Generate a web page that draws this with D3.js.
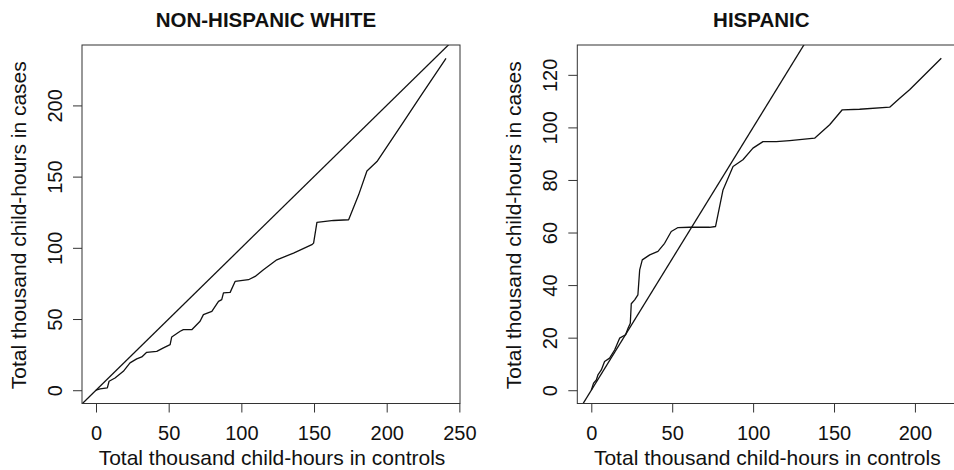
<!DOCTYPE html>
<html>
<head>
<meta charset="utf-8">
<script src="https://cdn.jsdelivr.net/npm/d3@7"></script>
<style>
  html, body { margin: 0; padding: 0; background: #fff; }
  svg { display: block; font-family: "Liberation Sans", Arial, Helvetica, sans-serif; }
</style>
</head>
<body>
<svg id="chart" width="954" height="470"></svg>
<script>
// cumulative child-hours (thousands): controls on x, cases on y
var nhwControls = [0, 2.8, 7.8, 9.0, 13.1, 18.8, 23.4, 28, 31.5, 34.9, 41.8, 46.4, 51, 52.1, 57.9, 60.1, 65.9, 71.6, 73.9, 79.7, 84.3, 86.5, 87.7, 92.3, 95.7, 104.9, 109.5, 115.2, 124.4, 135.9, 148.5, 149.7, 152, 163.5, 173.8, 180.7, 186.4, 193.3, 200.2, 211.7, 223.1, 240.8];
var nhwCases = [0, 0.9, 1.6, 6.3, 8.6, 13.3, 19.2, 22, 23.4, 26.6, 27.3, 29.7, 32, 37.4, 41.4, 42.5, 42.5, 48.4, 53.1, 55.4, 62.4, 63.6, 68.3, 68.7, 76.4, 77.6, 79.9, 84.6, 91.6, 96.3, 102.2, 103.3, 117.8, 119.2, 119.7, 137.2, 154, 160.6, 171.1, 188.6, 206.2, 233.1];

var hispControls = [0, 1.4, 3.1, 4.1, 6.2, 8.2, 11.3, 14.4, 17.5, 21.2, 22.7, 24.1, 24.7, 26.8, 28.8, 29.9, 31.5, 36.1, 41.2, 45.3, 49.4, 53.6, 60.8, 73.1, 76.8, 81.4, 87.6, 93.7, 99.9, 106.1, 114.3, 122.6, 138, 147.3, 155.1, 165.8, 184.4, 190.6, 196.7, 216.3];
var hispCases = [0, 2.7, 3.9, 5.8, 7.7, 10.9, 12.2, 15.3, 19.8, 21.1, 23.6, 25.5, 32.9, 34.4, 36.3, 45.8, 49.6, 51.5, 52.8, 55.9, 60.4, 61.9, 62, 62, 62.3, 76.2, 85.1, 87.7, 92.1, 94.6, 94.6, 95, 95.9, 101, 106.7, 106.9, 107.7, 111.1, 114.3, 126.3];

var nhwXTicks = [0, 50, 100, 150, 200, 250];
var nhwYTicks = [0, 50, 100, 150, 200];
var hispXTicks = [0, 50, 100, 150, 200];
var hispYTicks = [0, 20, 40, 60, 80, 100, 120];

var xLabel = "Total thousand child-hours in controls";
var yLabel = "Total thousand child-hours in cases";

var svg = d3.select("#chart");

// R style axis range: data range padded by 4% each side
function rExtent(arr) {
  var lo = d3.min(arr), hi = d3.max(arr);
  var pad = (hi - lo) * 0.04;
  return [lo - pad, hi + pad];
}

function drawPanel(opts) {
  var left = opts.left, top = 45, w = 378, h = 358.5;
  var x = d3.scaleLinear().domain(rExtent(opts.xs)).range([left, left + w]);
  var y = d3.scaleLinear().domain(rExtent(opts.ys)).range([top + h, top]);

  var clipId = "clip-" + opts.id;
  svg.append("clipPath").attr("id", clipId)
    .append("rect").attr("x", left).attr("y", top).attr("width", w).attr("height", h);

  var plot = svg.append("g").attr("clip-path", "url(#" + clipId + ")");

  // y = x reference line
  var lo = Math.min(x.domain()[0], y.domain()[0]);
  var hi = Math.max(x.domain()[1], y.domain()[1]);
  plot.append("line")
    .attr("x1", x(lo)).attr("y1", y(lo))
    .attr("x2", x(hi)).attr("y2", y(hi))
    .attr("stroke", "#111").attr("stroke-width", 1.3);

  var pts = opts.xs.map(function(d, i) { return [d, opts.ys[i]]; });
  var line = d3.line()
    .x(function(d) { return x(d[0]); })
    .y(function(d) { return y(d[1]); });
  plot.append("path").datum(pts)
    .attr("d", line)
    .attr("fill", "none")
    .attr("stroke", "#111")
    .attr("stroke-width", 1.3)
    .attr("stroke-linejoin", "round");

  // box
  svg.append("rect")
    .attr("x", left).attr("y", top).attr("width", w).attr("height", h)
    .attr("fill", "none").attr("stroke", "#333").attr("stroke-width", 1);

  // x axis
  var xa = svg.append("g").attr("transform", "translate(0," + (top + h) + ")")
    .call(d3.axisBottom(x).tickValues(opts.xTicks).tickSize(9).tickFormat(d3.format("d")));
  xa.select(".domain").remove();
  xa.selectAll(".tick line").attr("stroke", "#333");
  xa.selectAll(".tick text")
    .attr("y", 36).attr("dy", 0)
    .attr("font-size", "20px").attr("fill", "#111")
    .attr("font-family", null);

  // y axis, labels parallel to the axis
  var ya = svg.append("g").attr("transform", "translate(" + left + ",0)")
    .call(d3.axisLeft(y).tickValues(opts.yTicks).tickSize(9).tickFormat(d3.format("d")));
  ya.select(".domain").remove();
  ya.selectAll(".tick line").attr("stroke", "#333");
  ya.selectAll(".tick text")
    .attr("x", null).attr("dy", 0)
    .attr("transform", "translate(-20,0) rotate(-90)")
    .attr("text-anchor", "middle")
    .attr("font-size", "20px").attr("fill", "#111")
    .attr("font-family", null);

  var cx = left + w / 2;
  svg.append("text")
    .attr("x", cx - 5).attr("y", 27)
    .attr("text-anchor", "middle")
    .attr("font-size", "20.5px").attr("font-weight", "bold").attr("fill", "#111")
    .text(opts.title);

  svg.append("text")
    .attr("x", cx + 1).attr("y", 465)
    .attr("text-anchor", "middle")
    .attr("font-size", "21px").attr("fill", "#111")
    .text(xLabel);

  svg.append("text")
    .attr("transform", "translate(" + (left - 56.5) + "," + (top + h / 2 + 1) + ") rotate(-90)")
    .attr("text-anchor", "middle")
    .attr("font-size", "21px").attr("fill", "#111")
    .text(yLabel);
}

drawPanel({ id: "nhw", left: 82, title: "NON-HISPANIC WHITE", xs: nhwControls, ys: nhwCases, xTicks: nhwXTicks, yTicks: nhwYTicks });
drawPanel({ id: "hisp", left: 577.3, title: "HISPANIC", xs: hispControls, ys: hispCases, xTicks: hispXTicks, yTicks: hispYTicks });
</script>
</body>
</html>
